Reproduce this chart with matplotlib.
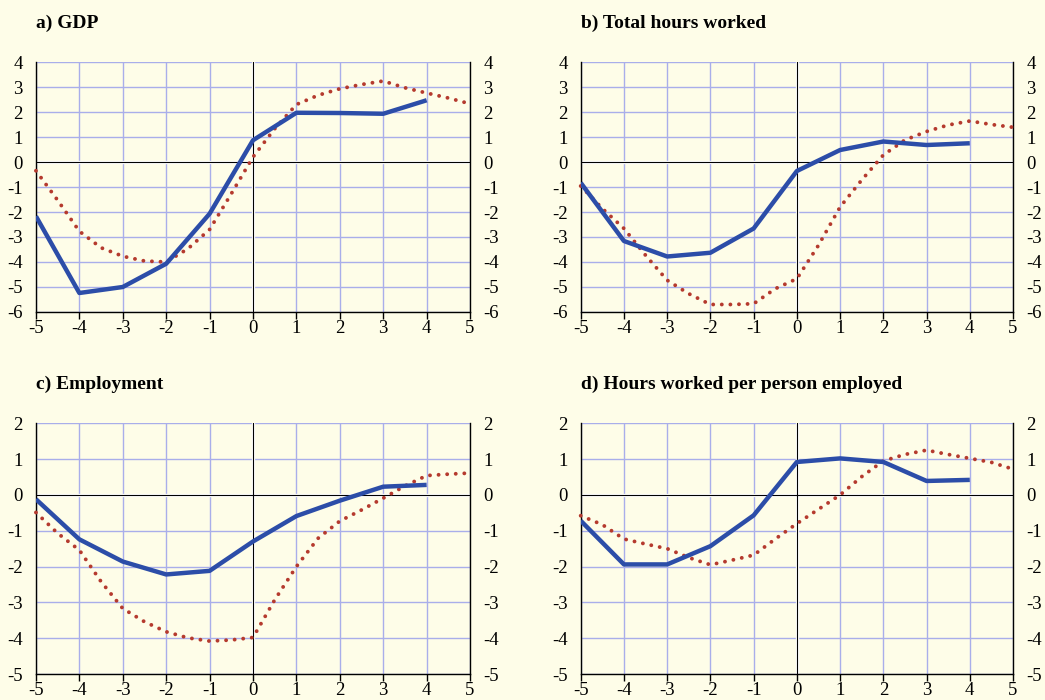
import matplotlib.pyplot as plt

# Horizontal axis: years around the reference point
X_BLUE = [-5, -4, -3, -2, -1, 0, 1, 2, 3, 4]
X_RED = [-5, -4.5, -4, -3.5, -3, -2.5, -2, -1.5, -1, -0.5, 0,
         0.5, 1, 1.5, 2, 2.5, 3, 3.5, 4, 4.5, 5]

TITLES = ["a) GDP", "b) Total hours worked", "c) Employment",
          "d) Hours worked per person employed"]

GDP_BLUE = [-2.17, -5.24, -5.0, -4.07, -2.07, 0.87, 1.97, 1.96, 1.93, 2.47]
GDP_RED = [-0.35, -1.53, -2.77, -3.43, -3.77, -3.96, -4.0, -3.47, -2.7, -1.27, 0.2,
           1.33, 2.3, 2.67, 2.93, 3.1, 3.24, 2.97, 2.76, 2.56, 2.33]

HOURS_BLUE = [-0.83, -3.16, -3.78, -3.63, -2.66, -0.36, 0.48, 0.82, 0.68, 0.75]
HOURS_RED = [-0.96, -1.86, -2.66, -3.73, -4.73, -5.27, -5.7, -5.7, -5.67, -5.07, -4.67,
             -3.33, -1.8, -0.72, 0.28, 0.88, 1.22, 1.48, 1.64, 1.5, 1.39]

EMPL_BLUE = [-0.12, -1.24, -1.86, -2.22, -2.12, -1.3, -0.59, -0.16, 0.23, 0.28]
EMPL_RED = [-0.49, -1.07, -1.54, -2.42, -3.17, -3.54, -3.82, -3.99, -4.08, -4.05, -3.98,
            -2.93, -2.0, -1.21, -0.73, -0.42, -0.09, 0.25, 0.54, 0.58, 0.61]

PERPERSON_BLUE = [-0.72, -1.94, -1.94, -1.43, -0.57, 0.92, 1.02, 0.92, 0.39, 0.42]
PERPERSON_RED = [-0.58, -0.83, -1.23, -1.37, -1.5, -1.75, -1.95, -1.82, -1.68, -1.23, -0.8,
                 -0.4, 0.0, 0.51, 0.95, 1.13, 1.25, 1.13, 1.02, 0.91, 0.72]

BLUE_SERIES = [GDP_BLUE, HOURS_BLUE, EMPL_BLUE, PERPERSON_BLUE]
RED_SERIES = [GDP_RED, HOURS_RED, EMPL_RED, PERPERSON_RED]
Y_RANGES = [(-6, 4), (-6, 4), (-5, 2), (-5, 2)]

BG = "#FEFDE8"
GRID = "#A9AEEA"
BLUE = "#2C4DA8"
RED = "#B53A2E"

plt.rcParams["font.family"] = ["Liberation Serif", "DejaVu Serif"]

fig = plt.figure(figsize=(10.45, 7.0), dpi=100, facecolor=BG)

# [left, bottom, width, height] in figure fraction
boxes = [
    [0.0344, 0.5543, 0.4154, 0.3571],
    [0.5557, 0.5543, 0.4137, 0.3571],
    [0.0344, 0.0371, 0.4154, 0.3582],
    [0.5557, 0.0371, 0.4137, 0.3582],
]

for box, title, blue, red, (ylo, yhi) in zip(boxes, TITLES, BLUE_SERIES, RED_SERIES, Y_RANGES):
    ax = fig.add_axes(box)
    ax.set_facecolor(BG)
    ax.set_xlim(-5, 5)
    ax.set_ylim(ylo, yhi)
    ax.set_xticks(range(-5, 6))
    ax.set_yticks(range(ylo, yhi + 1))
    ax.grid(True, color=GRID, lw=1.0, zorder=0)
    ax.set_axisbelow(True)

    # zero lines with a thin white shadow
    ax.axhline(0, color="white", lw=2.4, zorder=1)
    ax.axhline(0, color="black", lw=0.8, zorder=1.5)
    ax.axvline(0, color="white", lw=2.4, zorder=1)
    ax.axvline(0, color="black", lw=0.8, zorder=1.5)

    ax.plot(X_RED, red, color=RED, lw=2.8, linestyle=(0, (0.01, 2.2)),
            dash_capstyle="round", zorder=3, clip_on=False)
    ax.plot(X_BLUE, blue, color=BLUE, lw=3.2, solid_capstyle="butt", zorder=4)

    ax.spines["top"].set_visible(False)
    for side in ("left", "right", "bottom"):
        ax.spines[side].set_color("black")
        ax.spines[side].set_linewidth(1.0)

    ax.tick_params(axis="y", which="both", left=False, right=False,
                   labelleft=True, labelright=True, labelsize=13.5, pad=6)
    ax.tick_params(axis="x", direction="out", length=5, width=1.0,
                   color="black", labelsize=13.5, pad=1)
    ax.set_xticklabels([str(v) for v in range(-5, 6)])
    ax.set_yticklabels([str(v) for v in range(ylo, yhi + 1)])

    ax.text(0.0, 1.0 + 39 / (box[3] * 700), title, transform=ax.transAxes,
            fontsize=14, fontweight="bold", ha="left", va="center")

fig.savefig("out.png", dpi=100, facecolor=BG)
